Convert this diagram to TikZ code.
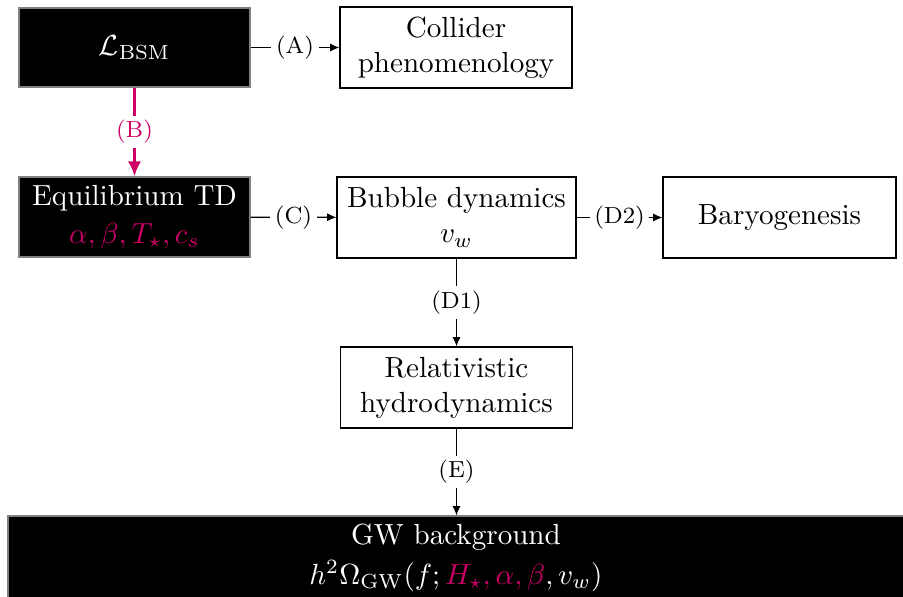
\documentclass[tikz,border=0pt]{standalone}
\usetikzlibrary{arrows.meta}
\definecolor{mag}{RGB}{204,0,102}
\begin{document}
\begin{tikzpicture}[x=0.3436pt,y=-0.3436pt,
  blackbox/.style={fill=black,draw=gray,line width=0.4pt,text=white,align=center,inner sep=0pt},
  whitebox/.style={fill=white,draw=black,line width=0.4pt,align=center,inner sep=0pt},
  conn/.style={draw=black,line width=0.45pt,-{Latex[length=3.2pt,width=2.8pt]}},
  lab/.style={fill=white,font=\footnotesize,inner sep=1.6pt},
  magconn/.style={draw=mag,line width=1.3pt,-{Latex[length=5.2pt,width=4.6pt]}}]
\useasboundingbox (0,0) rectangle (903,597);
% black strip extension of the bottom box
\fill[black] (880,516.5) rectangle (915,610);
\node[blackbox,minimum width=231*0.3436pt,minimum height=79*0.3436pt] (lbsm) at (134.5,47.5) {$\mathcal{L}_{\mathrm{BSM}}$};
\node[whitebox,minimum width=232*0.3436pt,minimum height=81*0.3436pt] (coll) at (456,47.5) {Collider\\phenomenology};
\node[blackbox,minimum width=231*0.3436pt,minimum height=80*0.3436pt] (eq) at (134.5,217) {Equilibrium TD\\[1pt]\textcolor{mag}{$\alpha,\beta,T_\star,c_s$}};
\node[whitebox,minimum width=239*0.3436pt,minimum height=81*0.3436pt] (bub) at (456.5,217.5) {Bubble dynamics\\$v_w$};
\node[whitebox,minimum width=233*0.3436pt,minimum height=81*0.3436pt] (bary) at (779.5,217.5) {Baryogenesis};
\node[whitebox,minimum width=232*0.3436pt,minimum height=81*0.3436pt] (rel) at (456.5,387.5) {Relativistic\\hydrodynamics};
\node[blackbox,minimum width=896*0.3436pt,minimum height=84*0.3436pt] (gw) at (456,558) {GW background\\[1.5pt]$h^2\Omega_{\mathrm{GW}}(f;\textcolor{mag}{H_\star,\alpha,\beta},v_w)$};
\draw[conn] (lbsm) -- node[lab]{(A)} (coll);
\draw[magconn] (lbsm) -- node[lab,text=mag]{(B)} (eq);
\draw[conn] (eq) -- node[lab]{(C)} (bub);
\draw[conn] (bub) -- node[lab]{(D2)} (bary);
\draw[conn] (bub) -- node[lab]{(D1)} (rel);
\draw[conn] (rel.south) -- node[lab]{(E)} (rel.south |- gw.north);
\end{tikzpicture}
\end{document}
